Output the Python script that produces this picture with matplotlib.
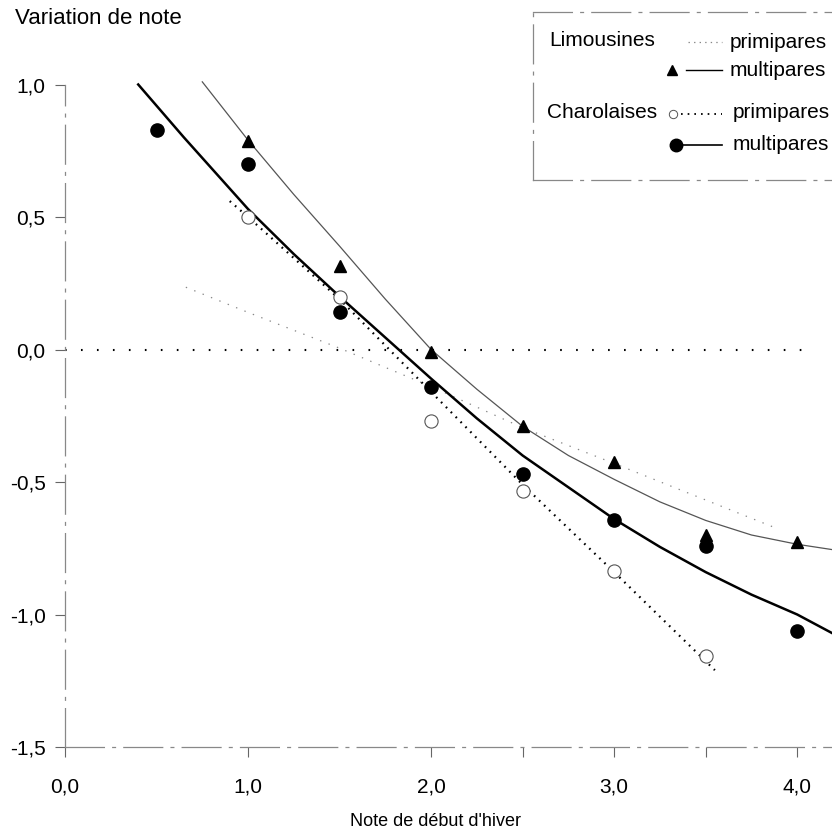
import matplotlib
matplotlib.use("Agg")
import matplotlib.pyplot as plt

plt.rcParams['font.family'] = ['Liberation Sans', 'DejaVu Sans']
plt.rcParams['lines.scale_dashes'] = False

# Observed points
x_lim_multi = [1.0, 1.5, 2.0, 2.5, 3.0, 3.5, 4.0]
y_lim_multi = [0.785, 0.315, -0.01, -0.287, -0.426, -0.70, -0.728]

x_cha_multi = [0.5, 1.0, 1.5, 2.0, 2.5, 3.0, 3.5, 4.0]
y_cha_multi = [0.83, 0.70, 0.14, -0.143, -0.47, -0.645, -0.743, -1.064]

x_cha_primi = [1.0, 1.5, 2.0, 2.5, 3.0, 3.5]
y_cha_primi = [0.50, 0.20, -0.27, -0.535, -0.834, -1.155]

# Fitted curves
cx_lim_multi = [0.75, 1.0, 1.25, 1.5, 1.75, 2.0, 2.25, 2.5, 2.75, 3.0, 3.25, 3.5, 3.75, 4.0, 4.19]
cy_lim_multi = [1.01, 0.79, 0.585, 0.39, 0.19, 0.00, -0.15, -0.29, -0.40, -0.49, -0.575,
                -0.645, -0.70, -0.735, -0.755]

cx_cha_multi = [0.4, 0.65, 1.0, 1.25, 1.5, 1.75, 2.0, 2.25, 2.5, 2.75, 3.0, 3.25, 3.5, 3.75, 4.0, 4.19]
cy_cha_multi = [1.00, 0.80, 0.53, 0.36, 0.20, 0.045, -0.11, -0.26, -0.40, -0.52, -0.64, -0.745,
                -0.84, -0.925, -1.00, -1.07]

cx_cha_primi = [0.9, 1.0, 1.5, 2.0, 2.5, 3.0, 3.55]
cy_cha_primi = [0.56, 0.50, 0.19, -0.16, -0.51, -0.84, -1.21]

cx_lim_primi = [0.66, 1.0, 1.5, 2.0, 2.5, 3.0, 3.87]
cy_lim_primi = [0.235, 0.14, 0.005, -0.14, -0.295, -0.43, -0.67]

zero_x = [0.0, 4.05]
zero_y = [0.0, 0.0]

x_ticks = [0, 1, 2, 3, 4]
x_minor = [2.5, 3.5]
y_ticks = [-1.5, -1.0, -0.5, 0.0, 0.5, 1.0]


def fr(v):
    return f"{v:.1f}".replace('.', ',')


fig = plt.figure(figsize=(8.32, 8.33), dpi=100)
ax = fig.add_axes([65 / 832, 86 / 833, 767 / 832, 667 / 833])
ax.set_xlim(0, 4.19)
ax.set_ylim(-1.5, 1.017)

# Lines
ax.plot(zero_x, zero_y, color='black', lw=1.5, linestyle=(0, (1.2, 10.3)))
ax.plot(cx_lim_primi, cy_lim_primi, color='#888888', lw=0.9, linestyle=(0, (1.0, 5.5)))
ax.plot(cx_lim_multi, cy_lim_multi, color='#555555', lw=0.9)
ax.plot(cx_cha_primi, cy_cha_primi, color='black', lw=1.6, linestyle=(0, (1.2, 3.8)))
ax.plot(cx_cha_multi, cy_cha_multi, color='black', lw=1.8)

# Points
ax.plot(x_lim_multi, y_lim_multi, '^', color='black', ms=8, lw=0)
ax.plot(x_cha_multi, y_cha_multi, 'o', color='black', ms=9.5, lw=0)
ax.plot(x_cha_primi, y_cha_primi, 'o', mfc='white', mec='#555555', mew=0.8, ms=9.5, lw=0)

# Axes styling
for side in ['top', 'right']:
    ax.spines[side].set_visible(False)
for side in ['left', 'bottom']:
    ax.spines[side].set_color('#888888')
    ax.spines[side].set_linewidth(0.9)
    ax.spines[side].set_linestyle((0, (28, 6, 2, 6)))
ax.spines['left'].set_bounds(-1.5, 1.0)

ax.set_xticks(x_ticks)
ax.set_xticklabels([fr(v) for v in x_ticks])
ax.set_xticks(x_minor, minor=True)
ax.set_yticks(y_ticks)
ax.set_yticklabels([fr(v) for v in y_ticks])
ax.tick_params(axis='x', which='both', direction='out', length=7, width=0.8,
               color='#666666', pad=15, labelsize=15)
ax.tick_params(axis='y', direction='out', length=7, width=0.8,
               color='#666666', pad=7, labelsize=15)

fig.text(15 / 832, 1 - 18 / 833, "Variation de note", fontsize=16, va='center', ha='left')
fig.text(436 / 832, 1 - 822 / 833, "Note de début d'hiver", fontsize=13, va='center', ha='center')

# Legend box, drawn in pixel coordinates
lg = fig.add_axes([533 / 832, 1 - 180 / 833, 310 / 832, 168 / 833])
lg.set_xlim(533, 843)
lg.set_ylim(180, 12)
lg.set_xticks([])
lg.set_yticks([])
lg.patch.set_alpha(0)
lg.spines['right'].set_visible(False)
for side in ['left', 'top', 'bottom']:
    lg.spines[side].set_color('#888888')
    lg.spines[side].set_linewidth(0.9)
    lg.spines[side].set_linestyle((0, (28, 6, 2, 6)))

fs = 15
lg.text(549, 40, "Limousines", fontsize=fs, va='center')
lg.plot([688, 722], [42, 42], color='#888888', lw=0.9, linestyle=(0, (1.0, 3.0)))
lg.text(730, 42, "primipares", fontsize=fs, va='center')
lg.plot([672], [70], '^', color='black', ms=7)
lg.plot([686, 722], [70, 70], color='black', lw=1.0)
lg.text(730, 70, "multipares", fontsize=fs, va='center')

lg.text(547, 113, "Charolaises", fontsize=fs, va='center')
lg.plot([673], [114], 'o', mfc='white', mec='#555555', mew=0.7, ms=6)
lg.plot([681, 722], [114, 114], color='black', lw=1.3, linestyle=(0, (1.2, 3.6)))
lg.text(733, 113, "primipares", fontsize=fs, va='center')
lg.plot([676], [145], 'o', color='black', ms=9)
lg.plot([682, 722], [145, 145], color='black', lw=1.2)
lg.text(733, 145, "multipares", fontsize=fs, va='center')

fig.savefig("out.png", dpi=100)
